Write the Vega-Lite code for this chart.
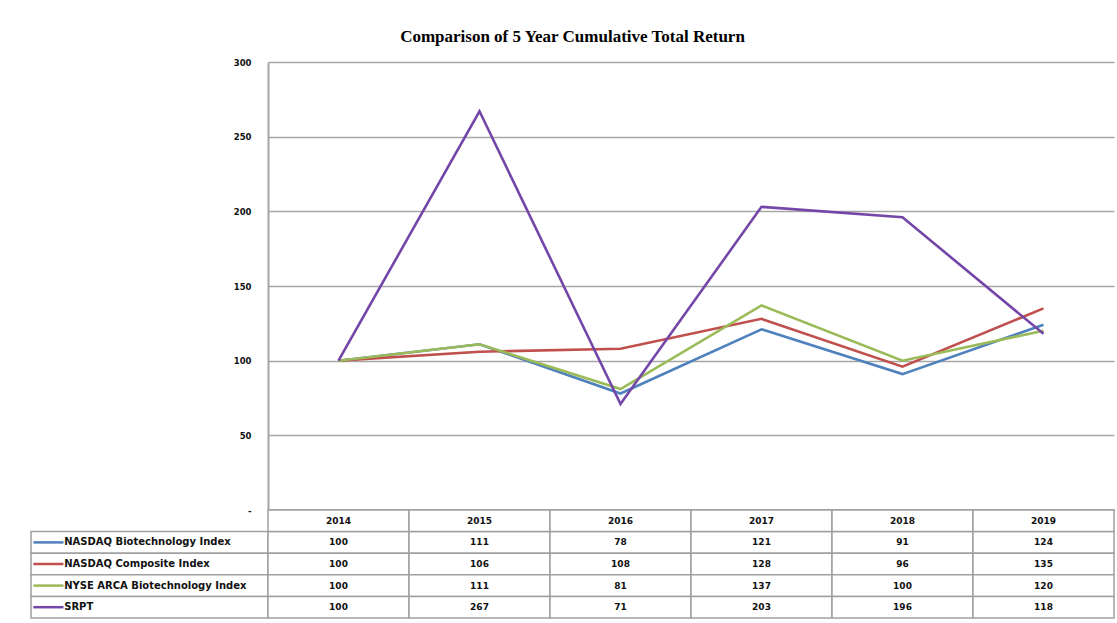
{
  "$schema": "https://vega.github.io/schema/vega-lite/v6.json",
  "background": "white",
  "padding": {"left": 30, "top": 28, "right": 4, "bottom": 5},
  "title": {
    "text": "Comparison of 5 Year Cumulative  Total Return",
    "font": "Liberation Serif",
    "fontSize": 17,
    "fontWeight": "bold",
    "color": "black",
    "anchor": "middle",
    "offset": 12
  },
  "datasets": {
    "returns": [
      {"series": "NASDAQ Biotechnology Index", "year": 2014, "value": 100},
      {"series": "NASDAQ Biotechnology Index", "year": 2015, "value": 111},
      {"series": "NASDAQ Biotechnology Index", "year": 2016, "value": 78},
      {"series": "NASDAQ Biotechnology Index", "year": 2017, "value": 121},
      {"series": "NASDAQ Biotechnology Index", "year": 2018, "value": 91},
      {"series": "NASDAQ Biotechnology Index", "year": 2019, "value": 124},
      {"series": "NASDAQ Composite Index", "year": 2014, "value": 100},
      {"series": "NASDAQ Composite Index", "year": 2015, "value": 106},
      {"series": "NASDAQ Composite Index", "year": 2016, "value": 108},
      {"series": "NASDAQ Composite Index", "year": 2017, "value": 128},
      {"series": "NASDAQ Composite Index", "year": 2018, "value": 96},
      {"series": "NASDAQ Composite Index", "year": 2019, "value": 135},
      {"series": "NYSE ARCA Biotechnology Index", "year": 2014, "value": 100},
      {"series": "NYSE ARCA Biotechnology Index", "year": 2015, "value": 111},
      {"series": "NYSE ARCA Biotechnology Index", "year": 2016, "value": 81},
      {"series": "NYSE ARCA Biotechnology Index", "year": 2017, "value": 137},
      {"series": "NYSE ARCA Biotechnology Index", "year": 2018, "value": 100},
      {"series": "NYSE ARCA Biotechnology Index", "year": 2019, "value": 120},
      {"series": "SRPT", "year": 2014, "value": 100},
      {"series": "SRPT", "year": 2015, "value": 267},
      {"series": "SRPT", "year": 2016, "value": 71},
      {"series": "SRPT", "year": 2017, "value": 203},
      {"series": "SRPT", "year": 2018, "value": 196},
      {"series": "SRPT", "year": 2019, "value": 118}
    ]
  },
  "data": {"name": "returns"},
  "columns": 2,
  "spacing": 0,
  "bounds": "flush",
  "concat": [
    {
      "width": 237,
      "height": 448,
      "mark": {"type": "text", "text": ""},
      "encoding": {}
    },
    {
      "width": 846,
      "height": 448,
      "mark": {"type": "line", "strokeWidth": 2.6},
      "encoding": {
        "x": {
          "field": "year",
          "type": "ordinal",
          "scale": {"type": "point", "padding": 0.5},
          "axis": {
            "title": null,
            "orient": "bottom",
            "ticks": false,
            "grid": false,
            "domain": true,
            "domainColor": "#9a9a9a",
            "domainWidth": 2.5,
            "labelAngle": 0,
            "labelPadding": 6,
            "labelFont": "DejaVu Sans",
            "labelFontSize": 9,
            "labelFontWeight": "bold",
            "labelColor": "#111111"
          }
        },
        "y": {
          "field": "value",
          "type": "quantitative",
          "scale": {"domain": [0, 300], "nice": false},
          "axis": {
            "title": null,
            "values": [0, 50, 100, 150, 200, 250, 300],
            "labelExpr": "datum.value == 0 ? '-' : datum.label",
            "grid": true,
            "gridColor": "#a6a6a6",
            "gridWidth": 1.6,
            "domain": true,
            "domainColor": "#a6a6a6",
            "domainWidth": 2,
            "ticks": false,
            "labelPadding": 17,
            "labelFont": "DejaVu Sans",
            "labelFontSize": 8.5,
            "labelFontWeight": "bold",
            "labelColor": "#111111"
          }
        },
        "color": {
          "field": "series",
          "type": "nominal",
          "scale": {
            "domain": ["NASDAQ Biotechnology Index", "NASDAQ Composite Index", "NYSE ARCA Biotechnology Index", "SRPT"],
            "range": ["#4F81BD", "#C0504D", "#9BBB59", "#7446A8"]
          },
          "legend": null
        }
      }
    },
    {
      "width": 237,
      "height": 108,
      "transform": [{"filter": "datum.year == 2014"}],
      "encoding": {
        "y": {
          "field": "series",
          "type": "nominal",
          "scale": {
            "domain": ["_header", "NASDAQ Biotechnology Index", "NASDAQ Composite Index", "NYSE ARCA Biotechnology Index", "SRPT"],
            "paddingInner": 0,
            "paddingOuter": 0
          },
          "axis": null
        }
      },
      "layer": [
        {
          "mark": {"type": "rect", "fill": "white", "stroke": "#a0a0a0", "strokeWidth": 1.5},
          "encoding": {
            "x": {"datum": 0, "type": "quantitative", "scale": {"domain": [0, 1], "nice": false, "zero": false}, "axis": null},
            "x2": {"datum": 1}
          }
        },
        {
          "mark": {"type": "rule", "strokeWidth": 2.5},
          "encoding": {
            "x": {"datum": 0.01, "type": "quantitative"},
            "x2": {"datum": 0.137},
            "color": {
              "field": "series",
              "type": "nominal",
              "scale": {
                "domain": ["NASDAQ Biotechnology Index", "NASDAQ Composite Index", "NYSE ARCA Biotechnology Index", "SRPT"],
                "range": ["#4F81BD", "#C0504D", "#9BBB59", "#7446A8"]
              },
              "legend": null
            }
          }
        },
        {
          "mark": {"type": "text", "align": "left", "baseline": "middle", "font": "DejaVu Sans", "fontSize": 10, "fontWeight": "bold", "color": "#111111"},
          "encoding": {
            "x": {"datum": 0.14, "type": "quantitative"},
            "text": {"field": "series"}
          }
        }
      ]
    },
    {
      "width": 846,
      "height": 108,
      "encoding": {
        "x": {
          "field": "year",
          "type": "ordinal",
          "scale": {"type": "band", "paddingInner": 0, "paddingOuter": 0},
          "axis": null
        },
        "y": {
          "field": "series",
          "type": "nominal",
          "scale": {
            "domain": ["_header", "NASDAQ Biotechnology Index", "NASDAQ Composite Index", "NYSE ARCA Biotechnology Index", "SRPT"],
            "paddingInner": 0,
            "paddingOuter": 0
          },
          "axis": null
        }
      },
      "layer": [
        {
          "mark": {"type": "rect", "fill": "white", "stroke": "#a0a0a0", "strokeWidth": 1.5}
        },
        {
          "transform": [{"filter": "datum.series == 'SRPT'"}],
          "mark": {"type": "rect", "fill": "white", "stroke": "#a0a0a0", "strokeWidth": 1.5},
          "encoding": {"y": {"datum": "_header"}}
        },
        {
          "transform": [{"filter": "datum.series == 'SRPT'"}],
          "mark": {"type": "text", "baseline": "middle", "font": "DejaVu Sans", "fontSize": 9, "fontWeight": "bold", "color": "#111111"},
          "encoding": {"y": {"datum": "_header"}, "text": {"field": "year"}}
        },
        {
          "mark": {"type": "text", "baseline": "middle", "font": "DejaVu Sans", "fontSize": 9, "fontWeight": "bold", "color": "#111111"},
          "encoding": {"text": {"field": "value", "type": "quantitative"}}
        }
      ]
    }
  ],
  "config": {
    "view": {"stroke": null}
  }
}
